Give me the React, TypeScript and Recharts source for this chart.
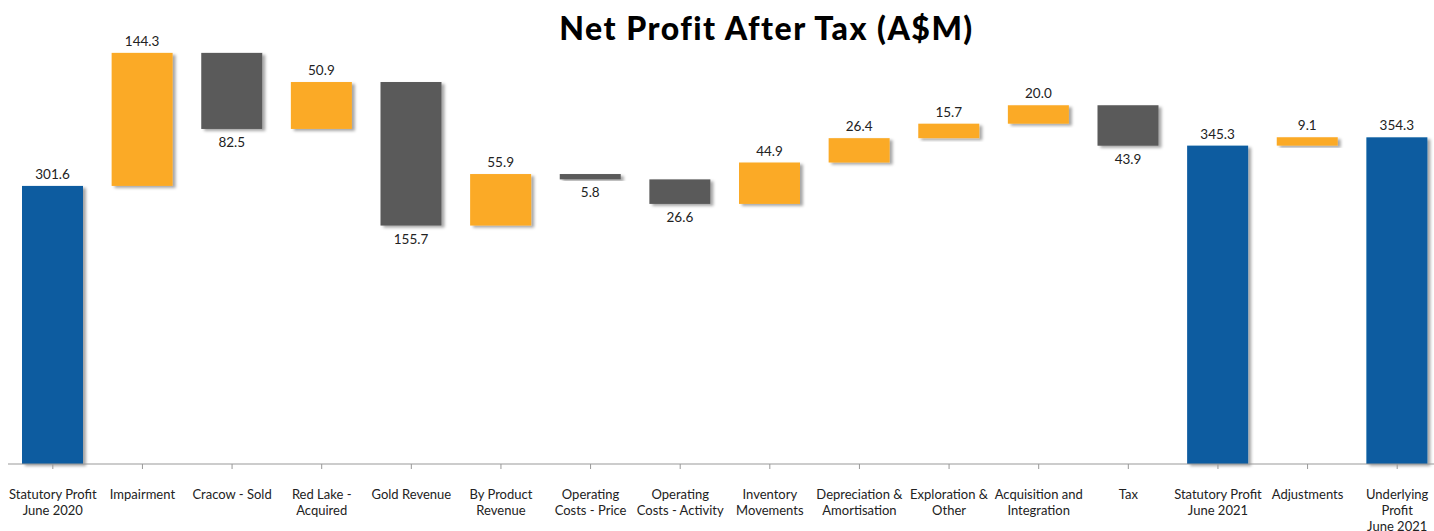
import React from "react";
import { BarChart, Bar, XAxis, YAxis, LabelList } from "recharts";

const categories = [
  "Statutory Profit\nJune 2020",
  "Impairment",
  "Cracow - Sold",
  "Red Lake -\nAcquired",
  "Gold Revenue",
  "By Product\nRevenue",
  "Operating\nCosts - Price",
  "Operating\nCosts - Activity",
  "Inventory\nMovements",
  "Depreciation &\nAmortisation",
  "Exploration &\nOther",
  "Acquisition and\nIntegration",
  "Tax",
  "Statutory Profit\nJune 2021",
  "Adjustments",
  "Underlying\nProfit\nJune 2021",
];
const values = [301.6, 144.3, -82.5, 50.9, -155.7, 55.9, -5.8, -26.6, 44.9, 26.4, 15.7, 20.0, -43.9, 345.3, 9.1, 354.3];
const kinds = ["total", "up", "down", "up", "down", "up", "down", "down", "up", "up", "up", "up", "down", "total", "up", "total"];

const COLORS: Record<string, string> = { total: "#085BA0", up: "#FBAA26", down: "#5A5A5A" };

const data = (() => {
  let run = 0;
  return categories.map((name, i) => {
    const v = values[i];
    let base = 0;
    let size = 0;
    if (kinds[i] === "total") {
      base = 0;
      size = v;
      run = v;
    } else if (v >= 0) {
      base = run;
      size = v;
      run = run + v;
    } else {
      run = run + v;
      base = run;
      size = -v;
    }
    return { name, base, size, kind: kinds[i], label: Math.abs(v).toFixed(1) };
  });
})();

const FONT = "Lato, 'Open Sans', sans-serif";

const Tick = (props: any) => {
  const { x, y, payload } = props;
  const lines = String(payload.value).split("\n");
  return (
    <g transform={`translate(${x},${y})`}>
      {lines.map((l, i) => (
        <text key={i} x={0} y={28 + i * 16} textAnchor="middle" fontSize={13} fill="#222" fontFamily={FONT}>
          {l}
        </text>
      ))}
    </g>
  );
};

const BarShape = (props: any) => {
  const { x, y, width, height, payload } = props;
  if (!height || height <= 0) return null;
  return <rect x={x} y={y} width={width} height={height} fill={COLORS[payload.kind]} filter="url(#barShadow)" />;
};

const ValueLabel = (props: any) => {
  const { x, y, width, height, index } = props;
  const d = data[index];
  const below = d.kind === "down";
  const ty = below ? y + height + 18 : y - 7;
  return (
    <text x={x + width / 2} y={ty} textAnchor="middle" fontSize={13.5} fill="#222" fontFamily={FONT}>
      {d.label}
    </text>
  );
};

export default function App() {
  return (
    <div style={{ position: "absolute", left: 0, top: 0, width: 1434, height: 531, overflow: "hidden", background: "#fff" }}>
      <svg width={0} height={0} style={{ position: "absolute" }}>
        <defs>
          <filter id="barShadow" x="-20%" y="-20%" width="140%" height="140%">
            <feDropShadow dx={3} dy={2} stdDeviation={1.5} floodColor="#000" floodOpacity={0.35} />
          </filter>
        </defs>
      </svg>
      <div
        style={{
          position: "absolute",
          left: 0,
          width: 1533,
          top: 8,
          textAlign: "center",
          fontFamily: FONT,
          fontWeight: 900,
          fontSize: 32,
          letterSpacing: 1.5,
          color: "#000",
          lineHeight: "40px",
          whiteSpace: "nowrap",
        }}
      >
        Net Profit After Tax (A$M)
      </div>
      <div style={{ position: "absolute", left: 0, top: 0 }}>
        <BarChart
          width={1442}
          height={531}
          data={data}
          margin={{ top: 3, right: 0, bottom: 0, left: 8 }}
          barSize={61}
        >
          <XAxis
            dataKey="name"
            interval={0}
            height={67}
            tick={<Tick />}
            axisLine={{ stroke: "#999" }}
            tickLine={{ stroke: "#999" }}
            tickSize={5}
          />
          <YAxis hide domain={[0, 500]} />
          <Bar dataKey="base" stackId="a" fill="transparent" isAnimationActive={false} />
          <Bar dataKey="size" stackId="a" shape={<BarShape />} isAnimationActive={false}>
            <LabelList dataKey="size" content={<ValueLabel />} />
          </Bar>
        </BarChart>
      </div>
    </div>
  );
}
